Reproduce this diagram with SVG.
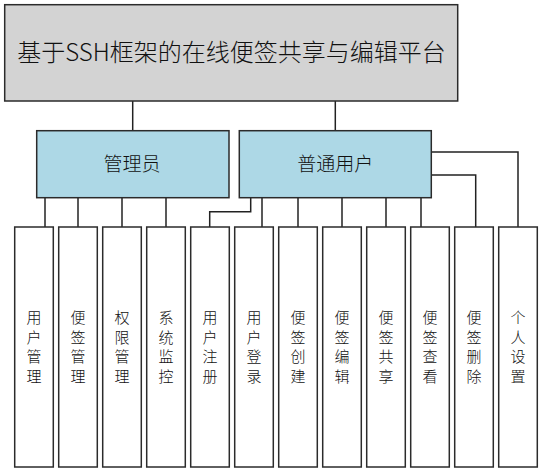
<svg xmlns="http://www.w3.org/2000/svg" width="543" height="473" viewBox="0 0 543 473">
<style>
.box{stroke:#2b2b2b;stroke-width:1.5}
.root{fill:#d3d3d3}
.mid{fill:#add8e6}
.leaf{fill:#ffffff}
.t{font-family:"Noto Sans CJK SC","Noto Sans",sans-serif;font-weight:300;fill:#111;text-anchor:middle;dominant-baseline:central}
.lt{font-size:15px}
.conn path{fill:none;stroke:#222;stroke-width:1.5}
</style>
<rect width="543" height="473" fill="#ffffff"/>
<g class="conn">
<path d="M132.7,101 V130.7"/>
<path d="M335.3,101 V130.7"/>
<path d="M45,197.7 V227"/>
<path d="M78,197.7 V227"/>
<path d="M122,197.7 V227"/>
<path d="M166,197.7 V227"/>
<path d="M250.7,197.7 V211.7 H209.7 V227"/>
<path d="M262,197.7 V227"/>
<path d="M298,197.7 V227"/>
<path d="M342,197.7 V227"/>
<path d="M386,197.7 V227"/>
<path d="M421,197.7 V227"/>
<path d="M431.3,175 H475.7 V227"/>
<path d="M431.3,152 H518 V227"/>
</g>
<g id="root">
<rect class="box root" x="4.7" y="4.7" width="453" height="96.3"/>
<text class="t" x="231.5" y="50" font-size="24">基于SSH框架的在线便签共享与编辑平台</text>
</g>
<g id="admin">
<rect class="box mid" x="36.7" y="130.7" width="192.3" height="67"/>
<text class="t" x="132" y="162" font-size="19">管理员</text>
</g>
<g id="user">
<rect class="box mid" x="239.3" y="130.7" width="192" height="67"/>
<text class="t" x="335.3" y="162" font-size="19">普通用户</text>
</g>
<g id="n1"><rect class="box leaf" x="14.7" y="227" width="38.6" height="240"/><text class="t lt"><tspan x="34" y="316">用</tspan><tspan x="34" y="335.5">户</tspan><tspan x="34" y="355">管</tspan><tspan x="34" y="374.5">理</tspan></text></g>
<g id="n2"><rect class="box leaf" x="58.7" y="227" width="38.6" height="240"/><text class="t lt"><tspan x="78" y="316">便</tspan><tspan x="78" y="335.5">签</tspan><tspan x="78" y="355">管</tspan><tspan x="78" y="374.5">理</tspan></text></g>
<g id="n3"><rect class="box leaf" x="102.7" y="227" width="38.6" height="240"/><text class="t lt"><tspan x="122" y="316">权</tspan><tspan x="122" y="335.5">限</tspan><tspan x="122" y="355">管</tspan><tspan x="122" y="374.5">理</tspan></text></g>
<g id="n4"><rect class="box leaf" x="146.7" y="227" width="38.6" height="240"/><text class="t lt"><tspan x="166" y="316">系</tspan><tspan x="166" y="335.5">统</tspan><tspan x="166" y="355">监</tspan><tspan x="166" y="374.5">控</tspan></text></g>
<g id="n5"><rect class="box leaf" x="190.7" y="227" width="38.6" height="240"/><text class="t lt"><tspan x="210" y="316">用</tspan><tspan x="210" y="335.5">户</tspan><tspan x="210" y="355">注</tspan><tspan x="210" y="374.5">册</tspan></text></g>
<g id="n6"><rect class="box leaf" x="234.7" y="227" width="38.6" height="240"/><text class="t lt"><tspan x="254" y="316">用</tspan><tspan x="254" y="335.5">户</tspan><tspan x="254" y="355">登</tspan><tspan x="254" y="374.5">录</tspan></text></g>
<g id="n7"><rect class="box leaf" x="278.7" y="227" width="38.6" height="240"/><text class="t lt"><tspan x="298" y="316">便</tspan><tspan x="298" y="335.5">签</tspan><tspan x="298" y="355">创</tspan><tspan x="298" y="374.5">建</tspan></text></g>
<g id="n8"><rect class="box leaf" x="322.7" y="227" width="38.6" height="240"/><text class="t lt"><tspan x="342" y="316">便</tspan><tspan x="342" y="335.5">签</tspan><tspan x="342" y="355">编</tspan><tspan x="342" y="374.5">辑</tspan></text></g>
<g id="n9"><rect class="box leaf" x="366.7" y="227" width="38.6" height="240"/><text class="t lt"><tspan x="386" y="316">便</tspan><tspan x="386" y="335.5">签</tspan><tspan x="386" y="355">共</tspan><tspan x="386" y="374.5">享</tspan></text></g>
<g id="n10"><rect class="box leaf" x="410.7" y="227" width="38.6" height="240"/><text class="t lt"><tspan x="430" y="316">便</tspan><tspan x="430" y="335.5">签</tspan><tspan x="430" y="355">查</tspan><tspan x="430" y="374.5">看</tspan></text></g>
<g id="n11"><rect class="box leaf" x="454.7" y="227" width="38.6" height="240"/><text class="t lt"><tspan x="474" y="316">便</tspan><tspan x="474" y="335.5">签</tspan><tspan x="474" y="355">删</tspan><tspan x="474" y="374.5">除</tspan></text></g>
<g id="n12"><rect class="box leaf" x="498.7" y="227" width="38.6" height="240"/><text class="t lt"><tspan x="518" y="316">个</tspan><tspan x="518" y="335.5">人</tspan><tspan x="518" y="355">设</tspan><tspan x="518" y="374.5">置</tspan></text></g>
</svg>
